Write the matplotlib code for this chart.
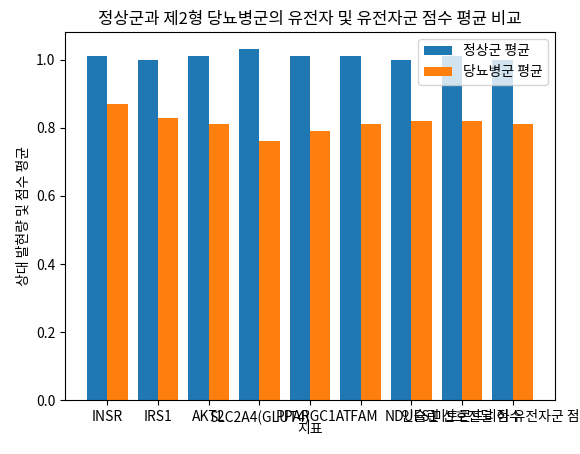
import matplotlib
matplotlib.use("Agg")
import matplotlib.pyplot as plt
import numpy as np

plt.rcParams['font.family'] = ['Noto Sans CJK KR', 'DejaVu Sans']

labels = ["INSR", "IRS1", "AKT2", "SLC2A4(GLUT4)", "PPARGC1A", "TFAM", "NDUFS1",
          "인슐린 신호전달 점수", "미토콘드리아 유전자군 점수"]
normal = [1.01, 1.00, 1.01, 1.03, 1.01, 1.01, 1.00, 1.01, 1.00]
diabetic = [0.87, 0.83, 0.81, 0.76, 0.79, 0.81, 0.82, 0.82, 0.81]

fig, ax = plt.subplots(figsize=(5.8, 4.54), dpi=100)
x = np.arange(len(labels))
w = 0.4
ax.bar(x - w/2, normal, w, label="정상군 평균", color="#1f77b4")
ax.bar(x + w/2, diabetic, w, label="당뇨병군 평균", color="#ff7f0e")
ax.set_xticks(x)
ax.set_xticklabels(labels)
ax.set_xlabel("지표", labelpad=-2)
ax.set_ylabel("상대 발현량 및 점수 평균")
ax.set_title("정상군과 제2형 당뇨병군의 유전자 및 유전자군 점수 평균 비교")
ax.legend(loc="upper right")
fig.subplots_adjust(left=0.112, right=0.957, bottom=0.118, top=0.93)
fig.savefig("out.png", dpi=100)
